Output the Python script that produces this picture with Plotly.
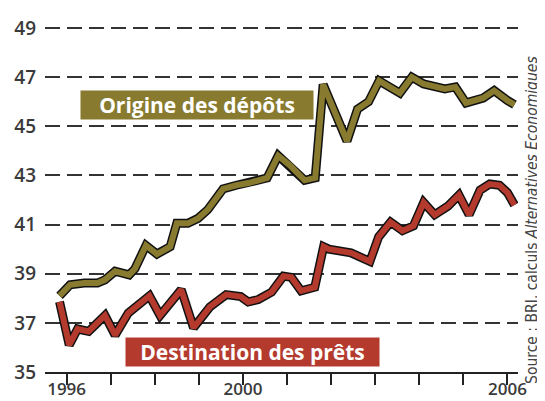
import plotly.graph_objects as go

# ---- data ----
years_pret = [1995.84, 1996.06, 1996.25, 1996.5, 1996.87, 1997.1, 1997.4, 1997.65, 1997.88, 1998.12,
              1998.6, 1998.88, 1999.25, 1999.62, 1999.95, 2000.12, 2000.35, 2000.65, 2000.92, 2001.1,
              2001.32, 2001.63, 2001.83, 2001.95, 2002.45, 2002.88, 2003.08, 2003.35, 2003.62, 2003.87,
              2004.1, 2004.35, 2004.65, 2004.9, 2005.13, 2005.38, 2005.6, 2005.82, 2006.0, 2006.16]
destination_prets = [37.86, 36.1, 36.75, 36.65, 37.3, 36.5, 37.4, 37.8, 38.1, 37.3,
                     38.35, 36.8, 37.65, 38.15, 38.07, 37.85, 37.95, 38.25, 38.9, 38.85,
                     38.3, 38.45, 40.1, 40.0, 39.85, 39.5, 40.5, 41.1, 40.75, 40.95,
                     41.9, 41.4, 41.75, 42.2, 41.4, 42.4, 42.65, 42.6, 42.3, 41.8]

years_depot = [1995.84, 1996.08, 1996.4, 1996.7, 1996.87, 1997.1, 1997.42, 1997.55, 1997.8, 1998.05,
               1998.35, 1998.5, 1998.75, 1998.98, 1999.2, 1999.55, 1999.85, 2000.15, 2000.55, 2000.8,
               2001.07, 2001.4, 2001.64, 2001.82, 2002.36, 2002.6, 2002.85, 2003.09, 2003.56, 2003.83,
               2004.1, 2004.58, 2004.82, 2005.06, 2005.45, 2005.7, 2006.0, 2006.16]
origine_depots = [38.1, 38.55, 38.62, 38.62, 38.75, 39.1, 38.95, 39.2, 40.15, 39.8,
                  40.1, 41.05, 41.05, 41.25, 41.6, 42.45, 42.6, 42.7, 42.9, 43.8,
                  43.4, 42.8, 42.9, 46.7, 44.4, 45.7, 46.0, 46.85, 46.35, 47.0,
                  46.72, 46.52, 46.6, 45.95, 46.15, 46.45, 46.05, 45.88]

y_ticks = [35, 37, 39, 41, 43, 45, 47, 49]
x_ticks = list(range(1996, 2007))
x_labels = {1996: "1996", 2000: "2000", 2006: "2006"}

OLIVE = "#887b30"
RED = "#b43a2e"
FONT = "Open Sans"

fig = go.Figure()
for xs, ys, col in [(years_depot, origine_depots, OLIVE), (years_pret, destination_prets, RED)]:
    fig.add_trace(go.Scatter(x=xs, y=ys, mode="lines",
                             line=dict(color="#111111", width=9), hoverinfo="skip"))
    fig.add_trace(go.Scatter(x=xs, y=ys, mode="lines",
                             line=dict(color=col, width=6), hoverinfo="skip"))

# the page adds an 8px body margin, so the figure is 8px smaller than the window
fig.update_layout(
    width=537, height=393,
    margin=dict(l=37, r=27, t=18, b=29),
    paper_bgcolor="white", plot_bgcolor="white",
    showlegend=False,
    font=dict(family=FONT, color="#3a3a3a"),
)
fig.update_xaxes(
    range=[1995.51, 2006.24], automargin=False,
    tickvals=x_ticks, ticktext=[x_labels.get(v, "") for v in x_ticks],
    ticks="outside", ticklen=11, tickwidth=2, tickcolor="#222222",
    ticklabelstandoff=-10,
    showgrid=False, zeroline=False,
    showline=True, linecolor="#222222", linewidth=2,
    tickfont=dict(size=17, family=FONT, color="#3a3a3a", weight=600),
)
fig.update_yaxes(
    range=[35, 49.08], tickvals=y_ticks, automargin=False,
    showgrid=True, gridcolor="#333333", gridwidth=1.6, griddash="15px,7px",
    zeroline=False, showline=False, ticks="",
    ticklabelstandoff=8,
    tickfont=dict(size=19, family=FONT, color="#3a3a3a", weight=600),
)

fig.add_annotation(xref="paper", yref="paper", x=0.321, y=0.773,
                   xanchor="center", yanchor="middle",
                   text="Origine des dépôts", showarrow=False,
                   bgcolor=OLIVE, width=232, height=28, borderpad=0,
                   font=dict(family=FONT, size=21, color="white", weight="bold"))
fig.add_annotation(xref="paper", yref="paper", x=0.438, y=0.058,
                   xanchor="center", yanchor="middle",
                   text="Destination des prêts", showarrow=False,
                   bgcolor=RED, width=253, height=28, borderpad=0,
                   font=dict(family=FONT, size=21, color="white", weight="bold"))
fig.add_annotation(xref="paper", yref="paper", x=1.03, y=0.44,
                   xanchor="center", yanchor="middle",
                   text="Source : BRI, calculs <i>Alternatives Economiques</i>",
                   textangle=-90, showarrow=False,
                   font=dict(family="Liberation Sans Narrow, DejaVu Sans Condensed", size=15.5, color="#444444"))

fig.write_html("out.html")
